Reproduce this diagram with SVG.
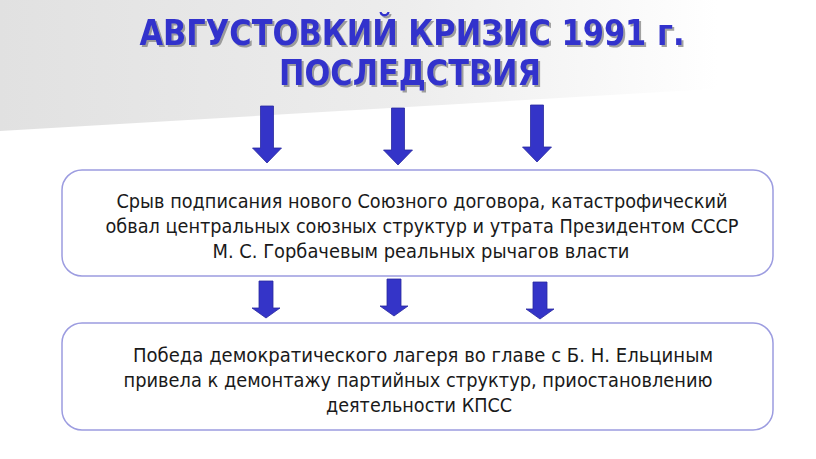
<svg xmlns="http://www.w3.org/2000/svg" width="816" height="459" viewBox="0 0 816 459">
<defs>
<linearGradient id="bg" x1="0" y1="0" x2="1" y2="0">
<stop offset="0" stop-color="#e1e1e1"/>
<stop offset="0.5" stop-color="#ededed"/>
<stop offset="0.88" stop-color="#ffffff"/>
</linearGradient>
<filter id="sh" x="-5%" y="-20%" width="110%" height="150%">
<feDropShadow dx="2" dy="2" stdDeviation="0.7" flood-color="#7a7a7a" flood-opacity="0.7"/>
</filter>
<path id="arrTop" d="M-6.5,0 H6.5 V42 H14.5 L0,57 L-14.5,42 H-6.5 Z"/>
<path id="arrMid" d="M-7,0 H7 V27 H14 L0,37 L-14,27 H-7 Z"/>
</defs>
<style>
.title{font-family:"DejaVu Sans",Verdana,sans-serif;font-weight:bold;font-size:35px;fill:#3333cc;text-anchor:middle}
.box{fill:#ffffff;stroke:#9c9ce0;stroke-width:1.5}
.t{font-family:"DejaVu Sans",Verdana,sans-serif;font-size:20px;fill:#1a1a1a;text-anchor:middle}
.a{fill:#3434c8;stroke:#2a2aa0;stroke-width:0.8}
</style>
<rect width="816" height="459" fill="#ffffff"/>
<polygon points="0,0 816,0 816,83 0,131" fill="url(#bg)"/>
<g id="title" filter="url(#sh)">
<text class="title" x="412" y="45" textLength="545" lengthAdjust="spacingAndGlyphs">АВГУСТОВКИЙ КРИЗИС 1991 г.</text>
<text class="title" x="410" y="85" textLength="262" lengthAdjust="spacingAndGlyphs">ПОСЛЕДСТВИЯ</text>
</g>
<g id="connectors">
<use href="#arrTop" class="a" x="267" y="106"/>
<use href="#arrTop" class="a" x="398" y="108"/>
<use href="#arrTop" class="a" x="537" y="105"/>
<use href="#arrMid" class="a" x="266" y="281"/>
<use href="#arrMid" class="a" x="394" y="279"/>
<use href="#arrMid" class="a" x="540" y="282"/>
</g>
<g id="box1">
<rect class="box" x="62" y="170" width="711" height="106" rx="20"/>
<text class="t" x="422" y="208" textLength="611" lengthAdjust="spacingAndGlyphs">Срыв подписания нового Союзного договора, катастрофический</text>
<text class="t" x="422" y="233" textLength="633" lengthAdjust="spacingAndGlyphs" style="font-size:19px">обвал центральных союзных структур и утрата Президентом СССР</text>
<text class="t" x="421" y="258" textLength="417" lengthAdjust="spacingAndGlyphs">М. С. Горбачевым реальных рычагов власти</text>
</g>
<g id="box2">
<rect class="box" x="62" y="323" width="711" height="107" rx="20"/>
<text class="t" x="423" y="362" textLength="580" lengthAdjust="spacingAndGlyphs">Победа демократического лагеря во главе с  Б. Н. Ельциным</text>
<text class="t" x="418" y="387" textLength="589" lengthAdjust="spacingAndGlyphs">привела к  демонтажу партийных структур, приостановлению</text>
<text class="t" x="419" y="412" textLength="186" lengthAdjust="spacingAndGlyphs">деятельности КПСС</text>
</g>
</svg>
